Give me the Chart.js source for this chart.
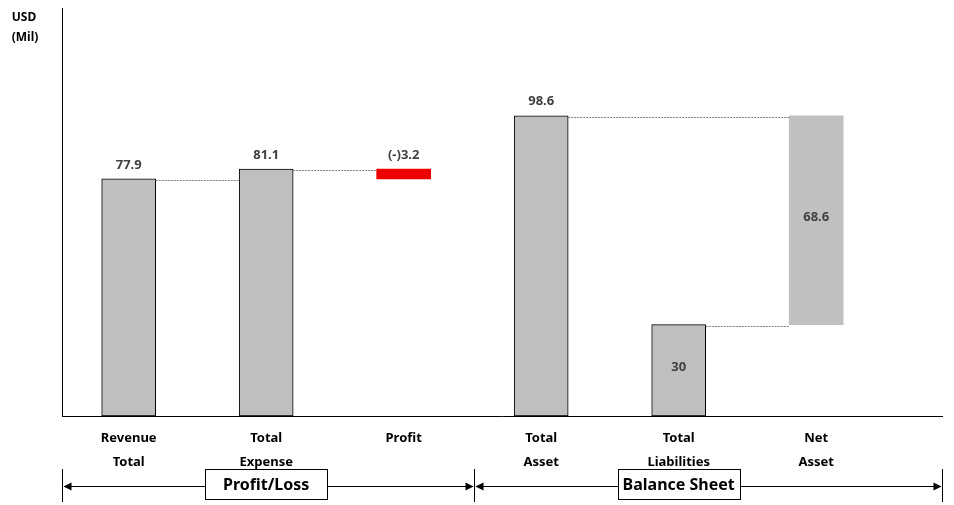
<!DOCTYPE html>
<html>
<head>
<meta charset="utf-8">
<script src="https://cdn.jsdelivr.net/npm/chart.js@4.4.1/dist/chart.umd.min.js"></script>
<style>
  html, body { margin: 0; padding: 0; background: #fff; }
  #wrap { width: 954px; height: 505px; position: relative; }
</style>
</head>
<body>
<div id="wrap"><canvas id="waterfall"></canvas></div>
<script>
// data
const categories = [["Revenue", "Total"], ["Total", "Expense"], "Profit", ["Total", "Asset"], ["Total", "Liabilities"], ["Net", "Asset"]];
const barStart = [0, 0, 77.9, 0, 0, 30];
const barEnd = [77.9, 81.1, 81.1, 98.6, 30, 98.6];
const valueLabels = ["77.9", "81.1", "(-)3.2", "98.6", "30", "68.6"];
const labelInside = [false, false, false, false, true, true];
// connector lines: from bar, to bar, level
const connectors = [[0, 1, 77.9], [1, 2, 81.1], [3, 5, 98.6], [4, 5, 30]];
// bottom groups: title, centre bar, start, end (in category units)
const groups = [["Profit/Loss", 1, -0.485, 2.51], ["Balance Sheet", 4, 2.51, 5.915]];

const FONT = "'Noto Sans', 'DejaVu Sans', sans-serif";
Chart.defaults.font.family = FONT;

const barColors = ["#bfbfbf", "#bfbfbf", "#ee0000", "#bfbfbf", "#bfbfbf", "#c0c0c0"];
const borderWidths = [1, 1, 0, 1, 1, 0];

function arrowHead(ctx, x, y, dir) {
    ctx.beginPath();
    ctx.moveTo(x, y);
    ctx.lineTo(x - dir * 8, y - 4);
    ctx.lineTo(x - dir * 8, y + 4);
    ctx.closePath();
    ctx.fill();
}

const extras = {
    id: "extras",
    afterDatasetsDraw(chart) {
        const ctx = chart.ctx;
        const xs = chart.scales.x;
        const ys = chart.scales.y;
        const half = 27;
        ctx.save();

        // dotted connectors
        ctx.strokeStyle = "#7f7f7f";
        ctx.lineWidth = 1;
        ctx.setLineDash([2, 1]);
        connectors.forEach(c => {
            const y = Math.round(ys.getPixelForValue(c[2])) + 1.5;
            ctx.beginPath();
            ctx.moveTo(xs.getPixelForValue(c[0]) + half, y);
            ctx.lineTo(xs.getPixelForValue(c[1]) - half, y);
            ctx.stroke();
        });
        ctx.setLineDash([]);

        // value labels
        ctx.fillStyle = "#404040";
        ctx.font = "bold 13px " + FONT;
        ctx.textAlign = "center";
        ctx.textBaseline = "middle";
        valueLabels.forEach((t, i) => {
            const x = xs.getPixelForValue(i);
            let y;
            if (labelInside[i]) {
                y = (ys.getPixelForValue(barStart[i]) + ys.getPixelForValue(barEnd[i])) / 2 - 3;
            } else {
                y = ys.getPixelForValue(barEnd[i]) - 14;
            }
            ctx.fillText(t, x, y);
        });

        // unit label
        ctx.fillStyle = "#000";
        ctx.font = "bold 12px " + FONT;
        ctx.fillText("USD", 24, 18);
        ctx.fillText("(Mil)", 25, 38);

        // group brackets
        const lineY = 486.5;
        ctx.strokeStyle = "#000";
        ctx.fillStyle = "#000";
        ctx.lineWidth = 1;
        groups.forEach(g => {
            const x0 = Math.round(xs.getPixelForValue(g[2])) + 0.5;
            const x1 = Math.round(xs.getPixelForValue(g[3])) + 0.5;
            [x0, x1].forEach(x => {
                ctx.beginPath();
                ctx.moveTo(x, 469);
                ctx.lineTo(x, 502);
                ctx.stroke();
            });
            ctx.beginPath();
            ctx.moveTo(x0 + 2, lineY);
            ctx.lineTo(x1 - 2, lineY);
            ctx.stroke();
            arrowHead(ctx, x0 + 1, lineY, -1);
            arrowHead(ctx, x1 - 1, lineY, 1);

            // titled box
            const cx = xs.getPixelForValue(g[1]);
            const bw = 122, bh = 30;
            const bx = Math.round(cx - bw / 2) + 0.5;
            ctx.fillStyle = "#fff";
            ctx.fillRect(bx, 469.5, bw, bh);
            ctx.strokeRect(bx, 469.5, bw, bh);
            ctx.fillStyle = "#000";
            ctx.font = "bold 16px " + FONT;
            ctx.fillText(g[0], cx, 485);
        });
        ctx.restore();
    }
};

new Chart(document.getElementById("waterfall"), {
    type: "bar",
    data: {
        datasets: [{
            data: barStart.map((s, i) => ({ x: i, y: [s, barEnd[i]] })),
            backgroundColor: barColors,
            borderColor: "#000",
            borderWidth: borderWidths,
            borderSkipped: false,
            barThickness: 54
        }]
    },
    options: {
        responsive: true,
        maintainAspectRatio: false,
        animation: false,
        layout: { padding: { left: 62, top: 8, right: 12, bottom: 0 } },
        plugins: {
            legend: { display: false },
            tooltip: { enabled: false }
        },
        scales: {
            x: {
                type: "linear",
                min: -0.485,
                max: 5.915,
                offset: false,
                grid: { display: false },
                border: { display: true, color: "#000", width: 1 },
                afterBuildTicks: s => { s.ticks = categories.map((c, i) => ({ value: i })); },
                afterFit: s => { s.height = 89; },
                ticks: {
                    autoSkip: false,
                    maxRotation: 0,
                    padding: 2,
                    color: "#000",
                    font: { size: 13, weight: "bold", lineHeight: 1.85 },
                    callback: v => categories[v]
                }
            },
            y: {
                min: 0,
                max: 134,
                grid: { display: false },
                border: { display: true, color: "#000", width: 1 },
                ticks: { display: false },
                afterFit: s => { s.width = 0; }
            }
        }
    },
    plugins: [extras]
});
</script>
</body>
</html>
